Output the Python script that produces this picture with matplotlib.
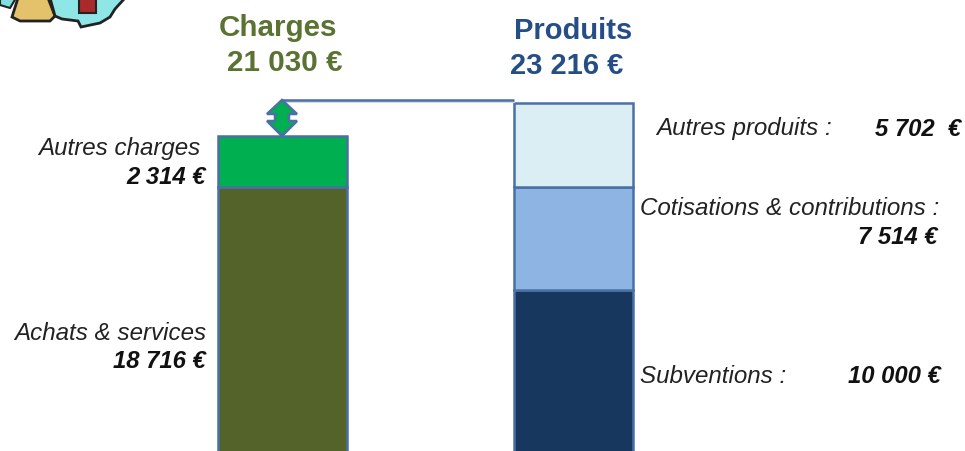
import matplotlib
matplotlib.use("Agg")
import matplotlib.pyplot as plt
from matplotlib.patches import Polygon

plt.rcParams['font.family'] = ['Liberation Sans', 'DejaVu Sans']

# heights as drawn in the picture (the bars run past the bottom edge)
charges_labels = ["Achats & services", "Autres charges"]
charges_amounts = ["18 716 €", "2 314 €"]
charges_heights = [275, 51]
charges_colors = ["#536329", "#00b050"]

produits_labels = ["Subventions :", "Cotisations & contributions :", "Autres produits :"]
produits_amounts = ["10 000 €", "7 514 €", "5 702  €"]
produits_heights = [172, 103, 84]
produits_colors = ["#17375e", "#8eb4e3", "#dbeef4"]

charges_total = "21 030 €"
produits_total = "23 216 €"
edge = "#4a70a5"
green_title = "#5a7332"
blue_title = "#254e86"

fig = plt.figure(figsize=(9.65, 4.52), dpi=100)
ax = fig.add_axes([0, 0, 1, 1])
ax.set_xlim(0, 965)
ax.set_ylim(0, 452)
ax.axis("off")


def stack(left, width, heights, colors):
	bottom = -11
	for h, c in zip(heights, colors):
		ax.bar(left, h, width, bottom=bottom, align="edge", color=c, edgecolor=edge, linewidth=1.8)
		bottom += h
	return bottom


top_c = stack(218, 129, charges_heights, charges_colors)
top_p = stack(514, 119, produits_heights, produits_colors)

# gap between the two totals
ax.plot([282, 514], [top_p + 1, top_p + 1], color="#d5d9e0", lw=1.5, zorder=1)
ax.plot([282, 514], [top_p + 3, top_p + 3], color=edge, lw=1.8, solid_capstyle="butt")
ax.add_patch(Polygon([(282, top_p + 3), (297, 337), (289, 337), (289, 330), (297, 330), (282, top_c),
	(267, 330), (275, 330), (275, 337), (267, 337)], closed=True, facecolor="#00b050", edgecolor=edge, lw=1.8, zorder=5))

# titles
ax.text(277.5, 424, "Charges", color=green_title, fontsize=21.3, fontweight="bold", ha="center", va="center")
ax.text(284.5, 389, charges_total, color=green_title, fontsize=21.3, fontweight="bold", ha="center", va="center")
ax.text(573, 421, "Produits", color=blue_title, fontsize=21, fontweight="bold", ha="center", va="center")
ax.text(567, 386, produits_total, color=blue_title, fontsize=21, fontweight="bold", ha="center", va="center")

name_style = dict(style="italic", fontsize=17.4, color="#222222", va="center")
num_style = dict(style="italic", fontweight="bold", fontsize=17.2, color="#111111", va="center")

# left labels
ax.text(200, 303, charges_labels[1], ha="right", **name_style)
ax.text(206, 275, charges_amounts[1], ha="right", **num_style)
ax.text(206, 118, charges_labels[0], ha="right", **name_style)
ax.text(206, 90, charges_amounts[0], ha="right", **num_style)

# right labels
ax.text(656, 323, produits_labels[2], ha="left", **name_style)
ax.text(961, 323, produits_amounts[2], ha="right", **num_style)
ax.text(640, 243, produits_labels[1], ha="left", **name_style)
ax.text(937, 214, produits_amounts[1], ha="right", **num_style)
ax.text(640, 75, produits_labels[0], ha="left", **name_style)
ax.text(941, 75, produits_amounts[0], ha="right", **num_style)

# corner icon, cut by the top edge
ax.add_patch(Polygon([(0, 453), (0, 446), (10, 443), (16, 453)], closed=True,
	facecolor="#7fdede", edgecolor="#222222", lw=1.5))
ax.add_patch(Polygon([(18, 453), (12, 434), (20, 430), (50, 430), (55, 435), (48, 453)], closed=True,
	facecolor="#e3c26b", edgecolor="#222222", lw=2))
ax.add_patch(Polygon([(50, 453), (55, 435), (62, 432), (78, 430), (81, 424), (100, 428), (110, 434), (115, 442), (125, 453)], closed=True,
	facecolor="#8fe6e6", edgecolor="#222222", lw=2))
ax.add_patch(Polygon([(79, 453), (79, 438), (96, 438), (96, 453)], closed=True, facecolor="#a82a2a", edgecolor="#222222", lw=1.5))

fig.savefig("out.png", dpi=100)
